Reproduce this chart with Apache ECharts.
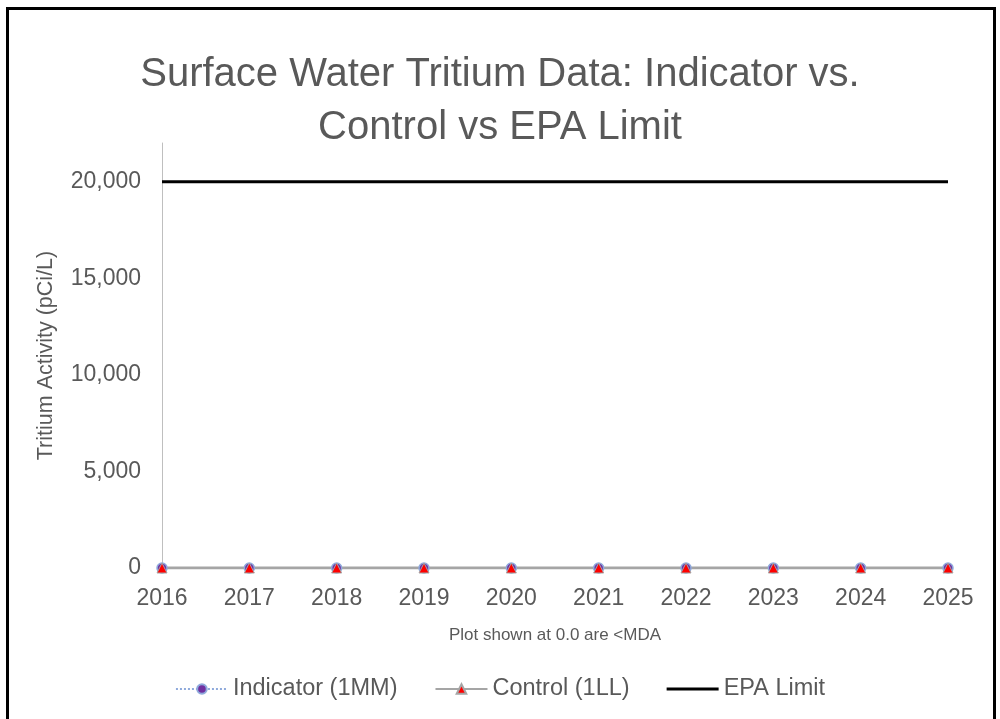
<!DOCTYPE html>
<html>
<head>
<meta charset="utf-8">
<script src="https://cdn.jsdelivr.net/npm/echarts@6/dist/echarts.min.js"></script>
<style>
  html, body { margin: 0; padding: 0; background: #fff; }
  #chart { width: 1000px; height: 719px; }
</style>
</head>
<body>
<div id="chart"></div>
<script>
// data
const years = ['2016', '2017', '2018', '2019', '2020', '2021', '2022', '2023', '2024', '2025']
const indicator = [0, 0, 0, 0, 0, 0, 0, 0, 0, 0]
const control = [0, 0, 0, 0, 0, 0, 0, 0, 0, 0]
const epaLimit = [20000, 20000, 20000, 20000, 20000, 20000, 20000, 20000, 20000, 20000]

const textColor = '#595959'
const font = 'Liberation Sans, Arial, sans-serif'

const chart = echarts.init(document.getElementById('chart'))
chart.setOption({
  backgroundColor: '#fff',
  textStyle: { fontFamily: font },
  title: {
    text: 'Surface Water Tritium Data: Indicator vs.\nControl vs EPA Limit',
    left: 'center',
    top: 43,
    textStyle: { color: textColor, fontSize: 40, fontWeight: 'normal', lineHeight: 53, fontFamily: font }
  },
  legend: {
    bottom: 13,
    left: 'center',
    itemWidth: 52,
    itemHeight: 12,
    itemGap: 37,
    textStyle: { color: textColor, fontSize: 23.5, fontFamily: font },
    data: ['Indicator (1MM)', 'Control (1LL)', { name: 'EPA Limit', icon: 'path://M0,0h52v3h-52z' }]
  },
  grid: { left: 162, right: 52, top: 143, bottom: 151 },
  xAxis: {
    type: 'category',
    data: years,
    boundaryGap: false,
    name: 'Plot shown at 0.0 are <MDA',
    nameLocation: 'middle',
    nameGap: 59,
    nameTextStyle: { color: textColor, fontSize: 17, fontFamily: font },
    axisLine: { lineStyle: { color: '#d9d9d9', width: 1 } },
    axisTick: { show: false },
    axisLabel: { color: textColor, fontSize: 23, margin: 19, fontFamily: font }
  },
  yAxis: {
    type: 'value',
    min: 0,
    max: 22000,
    interval: 5000,
    name: 'Tritium Activity (pCi/L)',
    nameLocation: 'middle',
    nameGap: 105,
    nameTextStyle: { color: textColor, fontSize: 21.5, fontFamily: font },
    axisLine: { show: true, lineStyle: { color: '#bfbfbf', width: 1 } },
    axisTick: { show: false },
    splitLine: { show: false },
    axisLabel: {
      color: textColor, fontSize: 23, margin: 21, fontFamily: font, showMaxLabel: false,
      formatter: v => v.toLocaleString('en-US')
    }
  },
  series: [
    {
      name: 'Indicator (1MM)',
      type: 'line',
      data: indicator,
      symbol: 'circle',
      symbolSize: 10,
      itemStyle: { color: '#7030a0', borderColor: '#8faadc', borderWidth: 1.5 },
      lineStyle: { color: '#8faadc', width: 2, type: 'dotted' }
    },
    {
      name: 'Control (1LL)',
      type: 'line',
      data: control,
      symbol: 'triangle',
      symbolSize: 10,
      itemStyle: { color: '#ff0000', borderColor: '#a5a5a5', borderWidth: 1 },
      lineStyle: { color: '#a5a5a5', width: 3 }
    },
    {
      name: 'EPA Limit',
      type: 'line',
      data: epaLimit,
      symbol: 'none',
      itemStyle: { color: '#000' },
      lineStyle: { color: '#000', width: 3 }
    }
  ],
  graphic: [
    {
      type: 'rect',
      shape: { x: 7.5, y: 8.5, width: 987, height: 800 },
      style: { fill: 'none', stroke: '#000', lineWidth: 3 },
      silent: true
    }
  ]
})
</script>
</body>
</html>
